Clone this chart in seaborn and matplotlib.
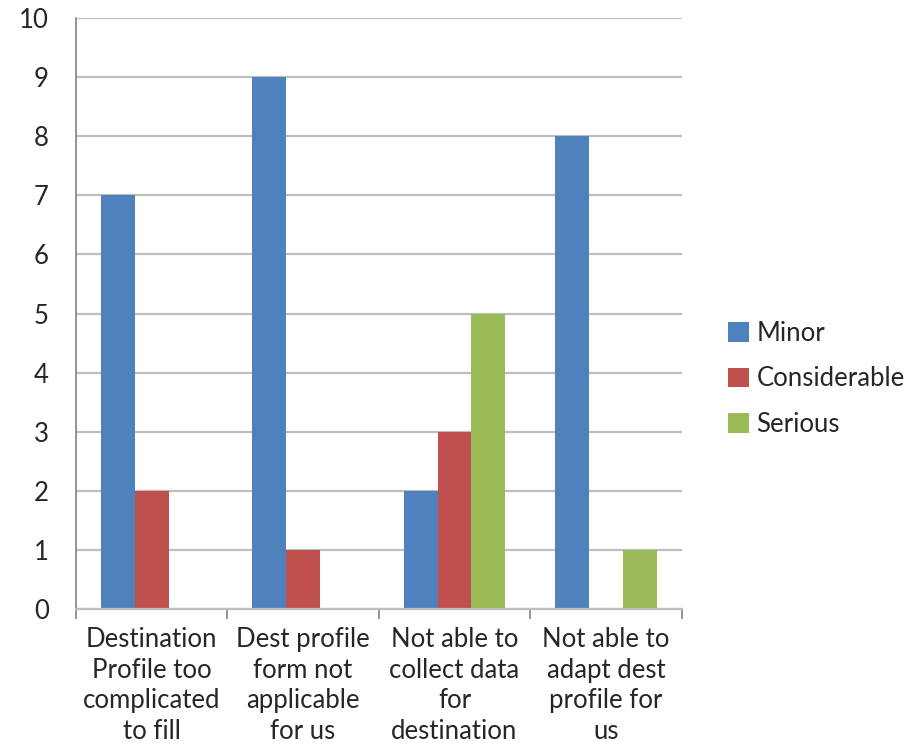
import matplotlib
matplotlib.use("Agg")
import matplotlib.pyplot as plt
import seaborn as sns
import pandas as pd
from matplotlib.ticker import FixedLocator
from matplotlib.patches import Patch

categories = [
    "Destination\nProfile too\ncomplicated\nto fill",
    "Dest profile\nform not\napplicable\nfor us",
    "Not able to\ncollect data\nfor\ndestination",
    "Not able to\nadapt dest\nprofile for\nus",
]
series = ["Minor", "Considerable", "Serious"]
minor = [7, 9, 2, 8]
considerable = [2, 1, 3, 0]
serious = [0, 0, 5, 1]
colors = ["#4F81BD", "#C0504D", "#9BBB59"]

rows = []
for name, vals in zip(series, [minor, considerable, serious]):
    for cat, v in zip(categories, vals):
        rows.append({"category": cat, "series": name, "value": v})
df = pd.DataFrame(rows)

sns.set_theme(style="white")
plt.rcParams["font.family"] = ["Lato", "DejaVu Sans"]
text_color = "#262626"
grid_color = "#BFBFBF"
axis_color = "#8C8C8C"
font_size = 18.5

fig = plt.figure(figsize=(9.10, 7.43), dpi=100)
ax = fig.add_axes([0.0835, 0.1803, 0.6655, 0.7955])

sns.barplot(data=df, x="category", y="value", hue="series",
            order=categories, hue_order=series, palette=colors,
            width=0.67, gap=0, saturation=1, legend=False, ax=ax,
            linewidth=0, err_kws={"linewidth": 0})

ax.set_xlim(-0.5, len(categories) - 0.5)
ax.set_ylim(0, 10)
ax.set_yticks(range(0, 11))
ax.set_xlabel("")
ax.set_ylabel("")

ax.yaxis.grid(True, color=grid_color, linewidth=1.6)
ax.set_axisbelow(True)
for side in ["top", "right"]:
    ax.spines[side].set_visible(False)
ax.spines["left"].set_color(axis_color)
ax.spines["left"].set_linewidth(1.3)
ax.spines["bottom"].set_color(grid_color)
ax.spines["bottom"].set_linewidth(1.6)

ax.tick_params(axis="y", which="major", length=6.5, width=1.6, color=grid_color,
               labelsize=font_size, labelcolor=text_color, pad=13)
ax.tick_params(axis="x", which="major", length=0, labelsize=font_size,
               labelcolor=text_color, pad=13)
ax.xaxis.set_minor_locator(FixedLocator([i - 0.5 for i in range(len(categories) + 1)]))
ax.tick_params(axis="x", which="minor", length=7, width=1.3, color=axis_color,
               bottom=True)
for lbl in ax.get_xticklabels():
    lbl.set_linespacing(1.28)

handles = [Patch(facecolor=c, edgecolor="none") for c in colors]
fig.legend(handles, series, loc="center left", bbox_to_anchor=(0.775, 0.49),
           frameon=False, fontsize=font_size, labelcolor=text_color,
           handlelength=0.8, handleheight=0.8, handletextpad=0.3,
           labelspacing=0.8)

fig.savefig("out.png", dpi=100, facecolor="white")
